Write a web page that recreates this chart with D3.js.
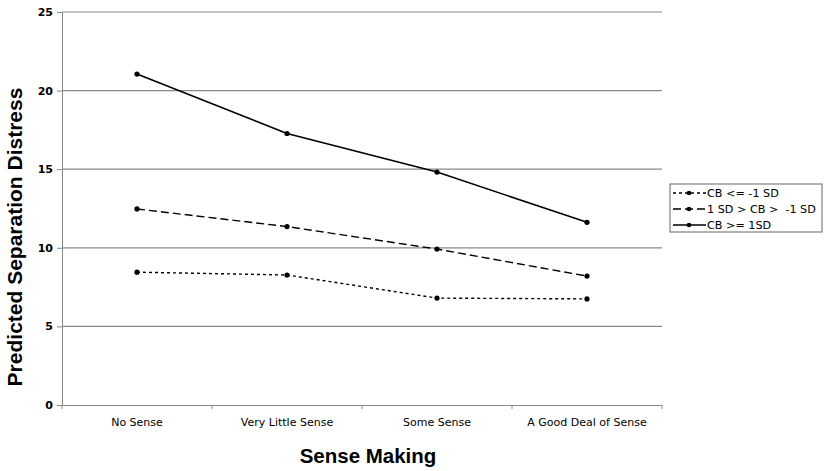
<!DOCTYPE html>
<html><head><meta charset="utf-8">
<script src="https://cdn.jsdelivr.net/npm/d3@7"></script>
<style>body{margin:0;background:#fff}svg{display:block}</style>
</head><body><svg id="c" width="825" height="471"></svg>
<script>
const categories = ["No Sense","Very Little Sense","Some Sense","A Good Deal of Sense"];
const seriesNames = ["CB <= -1 SD","1 SD > CB >  -1 SD","CB >= 1SD"];
const lowCB = [8.45, 8.27, 6.8, 6.75];
const midCB = [12.47, 11.35, 9.92, 8.2];
const highCB = [21.05, 17.27, 14.82, 11.62];
const yTicks = [0,5,10,15,20,25];
const dashes = ["3,3","8,4",null];

const svg = d3.select("#c");
const L=62,R=662,T=12,B=405;
const x = d3.scaleBand().domain(categories).range([L,R]);
const y = d3.scaleLinear().domain([0,25]).range([B,T]);

// grid
svg.append("g").selectAll("line").data(yTicks.filter(d=>d>0)).join("line")
  .attr("x1",L).attr("x2",R).attr("y1",d=>y(d)).attr("y2",d=>y(d))
  .attr("stroke","#888").attr("stroke-width",1.2);

// y axis
const ya = svg.append("g").attr("transform",`translate(${L},0)`)
  .call(d3.axisLeft(y).tickValues(yTicks).tickSize(5).tickPadding(4));
ya.select(".domain").attr("stroke","#888");
ya.selectAll(".tick line").attr("stroke","#888");
ya.selectAll("text").attr("font-family","DejaVu Sans, Verdana, sans-serif").attr("font-size",11).attr("font-weight","bold").attr("fill","#000");

// x axis
const xa = svg.append("g").attr("transform",`translate(0,${B})`)
  .call(d3.axisBottom(x).tickSize(0).tickPadding(13));
xa.select(".domain").attr("stroke","#888");
xa.selectAll("text").attr("font-family","DejaVu Sans, Verdana, sans-serif").attr("font-size",11).attr("fill","#000");
svg.append("g").selectAll("line").data([...categories.map(c=>x(c)),R]).join("line")
  .attr("x1",d=>d).attr("x2",d=>d).attr("y1",B).attr("y2",B+4).attr("stroke","#888");

// titles
svg.append("text").attr("x",368).attr("y",463).attr("text-anchor","middle")
  .attr("font-family","Liberation Sans, Arial, sans-serif").attr("font-weight","bold").attr("font-size",20.5).text("Sense Making");
svg.append("text").attr("transform",`translate(22,237) rotate(-90)`).attr("text-anchor","middle")
  .attr("font-family","Liberation Sans, Arial, sans-serif").attr("font-weight","bold").attr("font-size",21).text("Predicted Separation Distress");

// lines
const all=[lowCB,midCB,highCB];
const line=d3.line().x((d,i)=>x(categories[i])+x.bandwidth()/2).y(d=>y(d));
all.forEach((s,k)=>{
  svg.append("path").datum(s).attr("d",line).attr("fill","none").attr("stroke","#000")
    .attr("stroke-width",k===2?1.6:1.4).attr("stroke-dasharray",dashes[k]);
  svg.append("g").selectAll("circle").data(s).join("circle")
    .attr("cx",(d,i)=>x(categories[i])+x.bandwidth()/2).attr("cy",d=>y(d)).attr("r",2.6).attr("fill","#000");
});

// legend
const lg=svg.append("g").attr("transform","translate(670,184)");
lg.append("rect").attr("width",152).attr("height",48).attr("fill","#fff").attr("stroke","#666");
seriesNames.forEach((n,k)=>{
  const yy=9+k*16;
  lg.append("line").attr("x1",3).attr("x2",36).attr("y1",yy).attr("y2",yy).attr("stroke","#000").attr("stroke-width",1.3).attr("stroke-dasharray",dashes[k]);
  lg.append("circle").attr("cx",19).attr("cy",yy).attr("r",2.3).attr("fill","#000");
  lg.append("text").attr("x",37).attr("y",yy+4).attr("font-family","DejaVu Sans, Verdana, sans-serif").attr("font-size",11.2)
    .style("white-space","pre").text(n);
});
</script></body></html>
